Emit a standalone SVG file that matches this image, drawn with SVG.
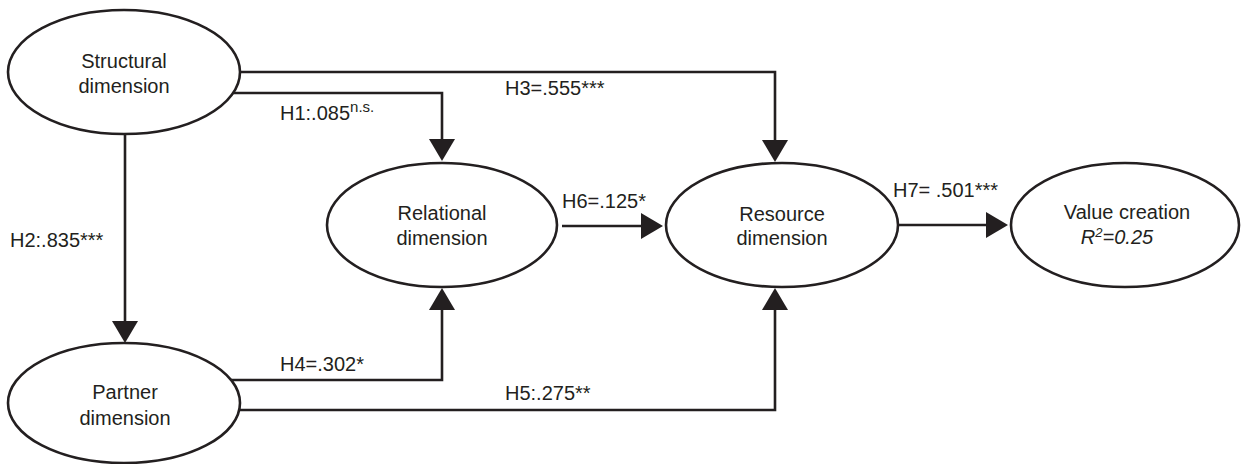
<svg xmlns="http://www.w3.org/2000/svg" width="1242" height="464" viewBox="0 0 1242 464">
<style>
.n{fill:#fff;stroke:#231f20;stroke-width:2.6}
.t{font-family:"Liberation Sans",Arial,sans-serif;font-size:20px;fill:#231f20}
.c{text-anchor:middle}
.e{fill:none;stroke:#231f20;stroke-width:2.6}
</style>
<defs>
<marker id="a" viewBox="0 0 22 26" refX="2" refY="13" markerWidth="22" markerHeight="26" markerUnits="userSpaceOnUse" orient="auto">
<path d="M0,0 L22,13 L0,26 z" fill="#231f20"/>
</marker>
</defs>
<g id="connectors">
<path class="e" d="M240,72 H775 V142" marker-end="url(#a)"/>
<path class="e" d="M233,93 H442 V141" marker-end="url(#a)"/>
<path class="e" d="M125,135 V323" marker-end="url(#a)"/>
<path class="e" d="M231,380 H442 V308" marker-end="url(#a)"/>
<path class="e" d="M240,410 H775 V308" marker-end="url(#a)"/>
<path class="e" d="M562,226 H643" marker-end="url(#a)"/>
<path class="e" d="M898,225 H988" marker-end="url(#a)"/>
<text class="t" x="280" y="120">H1:.085<tspan font-size="15" dy="-8">n.s.</tspan></text>
<text class="t" x="505" y="95">H3=.555***</text>
<text class="t" x="10" y="247">H2:.835***</text>
<text class="t" x="562" y="208">H6=.125*</text>
<text class="t" x="893" y="197">H7= .501***</text>
<text class="t" x="280" y="371">H4=.302*</text>
<text class="t" x="505" y="400">H5:.275**</text>
</g>
<g id="structural">
<ellipse class="n" cx="124" cy="72" rx="116" ry="62"/>
<text class="t c" x="124" y="68">Structural</text>
<text class="t c" x="124" y="93">dimension</text>
</g>
<g id="relational">
<ellipse class="n" cx="442" cy="225" rx="115" ry="62"/>
<text class="t c" x="442" y="220">Relational</text>
<text class="t c" x="442" y="245">dimension</text>
</g>
<g id="resource">
<ellipse class="n" cx="782" cy="225" rx="116" ry="62"/>
<text class="t c" x="782" y="221">Resource</text>
<text class="t c" x="782" y="245">dimension</text>
</g>
<g id="value">
<ellipse class="n" cx="1125" cy="225" rx="114" ry="62"/>
<text class="t c" x="1127" y="219">Value creation</text>
<text class="t c" x="1117" y="244" font-style="italic">R<tspan font-size="13" dy="-7">2</tspan><tspan dy="7">=0.25</tspan></text>
</g>
<g id="partner">
<ellipse class="n" cx="124" cy="403" rx="116" ry="60"/>
<text class="t c" x="125" y="399">Partner</text>
<text class="t c" x="125" y="425">dimension</text>
</g>
</svg>
